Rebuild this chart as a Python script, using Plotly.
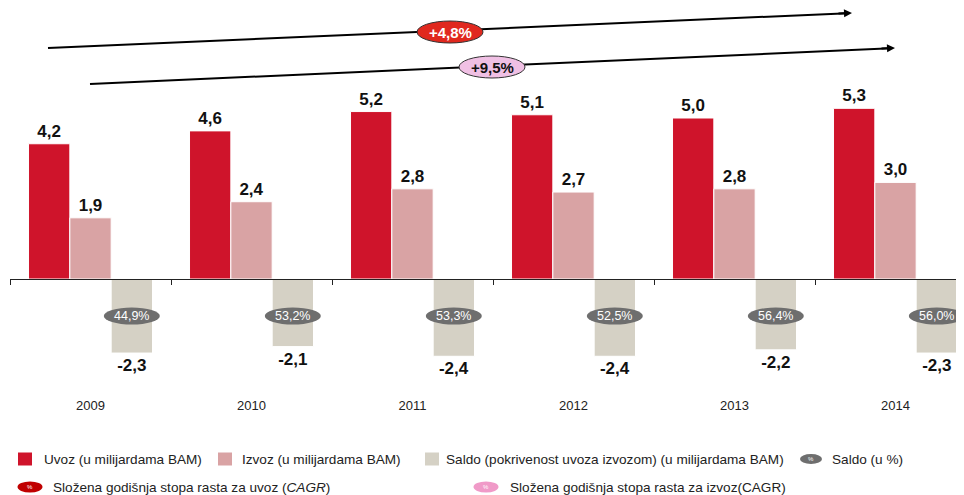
import plotly.graph_objects as go

years = ["2009", "2010", "2011", "2012", "2013", "2014"]
uvoz = [4.2, 4.6, 5.2, 5.1, 5.0, 5.3]
izvoz = [1.9, 2.4, 2.8, 2.7, 2.8, 3.0]
saldo = [-2.3, -2.1, -2.4, -2.4, -2.2, -2.3]
pokrivenost = ["44,9%", "53,2%", "53,3%", "52,5%", "56,4%", "56,0%"]
cagr = ["+4,8%", "+9,5%"]

RED = "#cf142b"
PINK = "#d9a3a4"
BEIGE = "#d5d1c5"
FONT = "Liberation Sans, Arial, sans-serif"

# page has an 8px body margin, so the figure is shifted by OFF
OFF = 8
W, H = 964 - OFF, 495 - OFF
ML, MB = 10 - OFF, 102
PLOT_H = H - MB
ZERO_PX = 279 - OFF
K = 32.2  # px per unit
ymax = ZERO_PX / K
ymin = -(PLOT_H - ZERO_PX) / K
xpos = list(range(len(years)))
xr = [-0.5, -0.5 + (W - ML) / 161]
bargap = 0.23
bw = (1 - bargap) / 3


def px(x):
    # page pixel -> paper x
    return (x - OFF - ML) / (W - ML)


def py(y):
    # page pixel -> paper y
    return (PLOT_H - (y - OFF)) / PLOT_H


fig = go.Figure()
lbl = dict(size=17, color="#111", family=FONT, weight="bold")
for name, vals, col in [("Uvoz (u milijardama BAM)", uvoz, RED),
                        ("Izvoz (u milijardama BAM)", izvoz, PINK),
                        ("Saldo (pokrivenost uvoza izvozom) (u milijardama BAM)", saldo, BEIGE)]:
    fig.add_trace(go.Bar(x=xpos, y=vals, name=name, marker_color=col,
                         marker_line=dict(color="white", width=1),
                         texttemplate="%{y:.1f}", textposition="outside",
                         textfont=lbl, cliponaxis=False, showlegend=False,
                         hoverinfo="skip"))
# helper trace so the zero axis is drawn
fig.add_trace(go.Scatter(x=xpos, y=[None] * len(xpos), xaxis="x2", mode="lines",
                         showlegend=False, hoverinfo="skip"))

shapes = []
ann = []

# saldo % ellipses
PCT_Y = -1.15
for i, t in enumerate(pokrivenost):
    shapes.append(dict(type="circle", xref="x", yref="y", xsizemode="pixel", ysizemode="pixel",
                       xanchor=i + bw, yanchor=PCT_Y, x0=-28, x1=28, y0=-8.5, y1=8.5,
                       fillcolor="#6e6e6e", line=dict(width=0)))
    ann.append(dict(x=i + bw, y=PCT_Y, xref="x", yref="y", text=t, showarrow=False,
                    xanchor="center", yanchor="middle",
                    font=dict(size=12.5, color="white", family=FONT)))

# CAGR arrows: line as shape (under the ellipse), head as a short annotation arrow
arrows = [((48, 48), (852, 13), (450, 32), "#e0281e", "white"),
          ((90, 84), (895, 48), (492, 67), "#f0c0e4", "#111")]
for (tail, head, c, fill, tc), t in zip(arrows, cagr):
    shapes.append(dict(type="line", xref="paper", yref="paper",
                       x0=px(tail[0]), y0=py(tail[1]), x1=px(head[0] - 4), y1=py(head[1] + 0.2),
                       line=dict(color="black", width=2)))
    dx, dy = tail[0] - head[0], tail[1] - head[1]
    f = 15 / (dx ** 2 + dy ** 2) ** 0.5
    ann.append(dict(x=px(head[0]), y=py(head[1]), xref="paper", yref="paper",
                    ax=dx * f, ay=dy * f, axref="pixel", ayref="pixel",
                    showarrow=True, arrowhead=2, arrowsize=0.8, arrowwidth=2,
                    arrowcolor="black", text=""))
    shapes.append(dict(type="circle", xref="paper", yref="paper", xsizemode="pixel",
                       ysizemode="pixel", xanchor=px(c[0]), yanchor=py(c[1]),
                       x0=-33, x1=33, y0=-11, y1=11, fillcolor=fill,
                       line=dict(color="#333", width=1)))
    ann.append(dict(x=px(c[0]), y=py(c[1]), xref="paper", yref="paper", text=t,
                    showarrow=False, xanchor="center", yanchor="middle",
                    font=dict(size=15, color=tc, family=FONT, weight="bold")))

# legend
leg_font = dict(size=13.6, color="#222", family=FONT)
row1 = [("rect", RED, 25, 42, "Uvoz (u milijardama BAM)"),
        ("rect", PINK, 225, 240, "Izvoz (u milijardama BAM)"),
        ("rect", BEIGE, 432, 444, "Saldo (pokrivenost uvoza izvozom) (u milijardama BAM)"),
        ("ell", "#6e6e6e", 811, 830, "Saldo (u %)")]
for kind, col, cx, tx, t in row1:
    if kind == "rect":
        shapes.append(dict(type="rect", xref="paper", yref="paper", xsizemode="pixel",
                           ysizemode="pixel", xanchor=px(cx), yanchor=py(459),
                           x0=-7, x1=7, y0=-6.5, y1=6.5, fillcolor=col, line=dict(width=0)))
    else:
        shapes.append(dict(type="circle", xref="paper", yref="paper", xsizemode="pixel",
                           ysizemode="pixel", xanchor=px(cx), yanchor=py(459),
                           x0=-11, x1=11, y0=-5, y1=5, fillcolor=col, line=dict(width=0)))
        ann.append(dict(x=px(cx), y=py(459), xref="paper", yref="paper", text="%",
                        showarrow=False, xanchor="center", yanchor="middle",
                        font=dict(size=6, color="white", family=FONT)))
    ann.append(dict(x=px(tx), y=py(459), xref="paper", yref="paper", text=t,
                    xanchor="left", yanchor="middle", showarrow=False, font=leg_font))

row2 = [("#c00000", 30, 51, "Složena godišnja stopa rasta za uvoz (<i>CAGR</i>)"),
        ("#f09ac8", 486, 508, "Složena godišnja stopa rasta za izvoz(CAGR)")]
for col, cx, tx, t in row2:
    shapes.append(dict(type="circle", xref="paper", yref="paper", xsizemode="pixel",
                       ysizemode="pixel", xanchor=px(cx), yanchor=py(487),
                       x0=-12.5, x1=12.5, y0=-5.5, y1=5.5, fillcolor=col, line=dict(width=0)))
    ann.append(dict(x=px(cx), y=py(487), xref="paper", yref="paper", text="%",
                    showarrow=False, xanchor="center", yanchor="middle",
                    font=dict(size=6, color="white", family=FONT)))
    ann.append(dict(x=px(tx), y=py(487), xref="paper", yref="paper", text=t,
                    xanchor="left", yanchor="middle", showarrow=False, font=leg_font))

fig.update_layout(
    width=W, height=H,
    margin=dict(l=ML, r=0, t=0, b=MB, pad=0),
    paper_bgcolor="white", plot_bgcolor="white",
    barmode="group", bargap=bargap, bargroupgap=0,
    separators=",.",
    showlegend=False,
    font=dict(family=FONT, color="#222"),
    xaxis=dict(range=xr, tickvals=xpos, ticktext=years, showgrid=False, zeroline=False,
               showline=False, ticks="", ticklabelstandoff=3,
               tickfont=dict(size=13, color="#222")),
    xaxis2=dict(overlaying="x", anchor="free", position=(0 - ymin) / (ymax - ymin),
                range=xr, tickvals=[i - 0.5 for i in range(len(years) + 1)],
                ticks="outside", ticklen=5, tickcolor="#222", showline=True,
                linecolor="#222", linewidth=1, showticklabels=False, showgrid=False,
                zeroline=False),
    yaxis=dict(range=[ymin, ymax], visible=False),
    shapes=shapes, annotations=ann,
)

fig.write_html("out.html")
